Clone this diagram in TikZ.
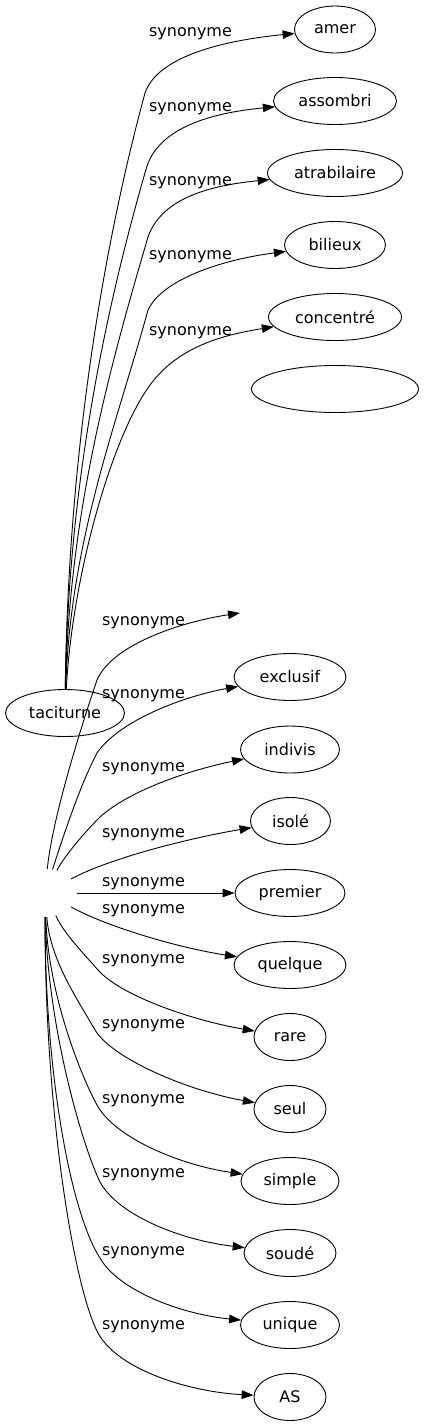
\documentclass[tikz,border=0pt]{standalone}
\usepackage{fontspec}
\setmainfont{DejaVu Sans}
\usetikzlibrary{arrows.meta,shapes.geometric}
\tikzset{
  word/.style={draw, ellipse, inner sep=0pt, minimum height=47pt, line width=0.9pt},
  ghost/.style={ellipse, inner sep=0pt, minimum width=64pt, minimum height=48pt},
  lab/.style={inner sep=0pt},
  syn/.style={-{Triangle[length=12pt,width=8.5pt]}, line width=0.9pt},
}
\begin{document}
\begin{tikzpicture}[x=1pt,y=-1pt,font=\fontsize{16}{19}\selectfont]
\useasboundingbox (0,0) rectangle (425,1427);
% nodes
\node[word, minimum width=119pt] (taciturne) at (65,713) {taciturne};
\node[ghost] (L) at (45,893) {};
\node[word, minimum width=81pt]  (amer) at (335,29.5) {amer};
\node[word, minimum width=123pt] (assombri) at (335,101) {assombri};
\node[word, minimum width=135pt] (atrabilaire) at (335,173) {atrabilaire};
\node[word, minimum width=101pt] (bilieux) at (335,245) {bilieux};
\node[word, minimum width=133pt] (concentre) at (335,317) {concentré};
\node[word, minimum width=167pt] (empty) at (335,389) {};
\coordinate (blank) at (240,613);
\node[word, minimum width=112pt] (exclusif) at (290,677) {exclusif};
\node[word, minimum width=99pt]  (indivis) at (290,749.5) {indivis};
\node[word, minimum width=80pt]  (isole) at (290.5,821) {isolé};
\node[word, minimum width=110pt] (premier) at (290,893) {premier};
\node[word, minimum width=112pt] (quelque) at (290,965) {quelque};
\node[word, minimum width=72pt]  (rare) at (290,1037) {rare};
\node[word, minimum width=72pt]  (seul) at (290,1109) {seul};
\node[word, minimum width=98pt]  (simple) at (290,1181) {simple};
\node[word, minimum width=92pt]  (soude) at (290,1253) {soudé};
\node[word, minimum width=99pt]  (unique) at (290,1325) {unique};
\node[word, minimum width=72pt]  (AS) at (290,1397) {AS};
% edges from taciturne
\draw[syn] (taciturne) .. controls (68,450) and (105,240) .. (145,93) .. controls (158,55) and (228,40) .. (amer);
\draw[syn] (taciturne) .. controls (68,480) and (108,300) .. (147,166) .. controls (160,128) and (210,113) .. (assombri);
\draw[syn] (taciturne) .. controls (69,510) and (112,360) .. (148,237) .. controls (161,200) and (205,186) .. (atrabilaire);
\draw[syn] (taciturne) .. controls (70,540) and (118,420) .. (148,310) .. controls (162,280) and (220,260) .. (bilieux);
\draw[syn] (taciturne) .. controls (72,580) and (110,440) .. (150,385) .. controls (178,347) and (222,335) .. (concentre);
% edges from the lower source
\draw[syn] (L) .. controls (52,820) and (80,730) .. (97,680) .. controls (112,645) and (180,622) .. (blank);
\draw[syn] (L) .. controls (62,840) and (80,785) .. (97,753) .. controls (118,722) and (180,697) .. (exclusif);
\draw[syn] (L) .. controls (65,855) and (85,832) .. (100,817) .. controls (130,790) and (190,770) .. (indivis);
\draw[syn] (L) .. controls (110,858) and (190,838) .. (isole);
\draw[syn] (L) -- (premier);
\draw[syn] (L) .. controls (110,928) and (180,948) .. (quelque);
\draw[syn] (L) .. controls (65,935) and (85,955) .. (98,970) .. controls (120,995) and (190,1020) .. (rare);
\draw[syn] (L) .. controls (50,960) and (78,1000) .. (95,1030) .. controls (112,1058) and (185,1090) .. (seul);
\draw[syn] (L) .. controls (48,990) and (78,1070) .. (97,1105) .. controls (115,1138) and (180,1165) .. (simple);
\draw[syn] (L) .. controls (47,1020) and (80,1140) .. (100,1182) .. controls (118,1215) and (180,1240) .. (soude);
\draw[syn] (L) .. controls (45,1080) and (72,1215) .. (100,1258) .. controls (118,1290) and (180,1314) .. (unique);
\draw[syn] (L) .. controls (45,1120) and (75,1290) .. (98,1333) .. controls (118,1370) and (190,1392) .. (AS);
% labels
\node[lab] (s1) at (190.5,34) {synonyme};
\node[lab] (s2) at (190.5,109) {synonyme};
\node[lab] (s3) at (190.5,183) {synonyme};
\node[lab] (s4) at (190.5,257) {synonyme};
\node[lab] (s5) at (190.5,333) {synonyme};
\node[lab] (s6) at (143.5,623) {synonyme};
\node[lab] (s7) at (143.5,696) {synonyme};
\node[lab] (s8) at (143.5,769) {synonyme};
\node[lab] (s9) at (143.5,835) {synonyme};
\node[lab] (s10) at (143.5,884) {synonyme};
\node[lab] (s11) at (143.5,911) {synonyme};
\node[lab] (s12) at (143.5,961) {synonyme};
\node[lab] (s13) at (143.5,1026) {synonyme};
\node[lab] (s14) at (143.5,1101) {synonyme};
\node[lab] (s15) at (143.5,1175) {synonyme};
\node[lab] (s16) at (143.5,1253) {synonyme};
\node[lab] (s17) at (143.5,1327) {synonyme};
\end{tikzpicture}
\end{document}
